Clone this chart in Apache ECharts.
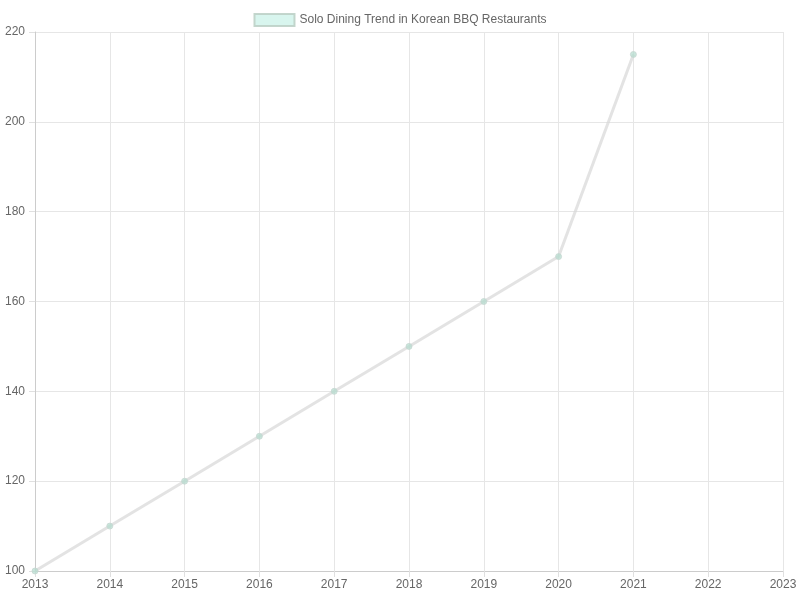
<!DOCTYPE html>
<html>
<head>
<meta charset="utf-8">
<script src="https://cdn.jsdelivr.net/npm/echarts@6/dist/echarts.min.js"></script>
<style>
  html, body { margin: 0; padding: 0; background: #fff; }
  #chart { width: 800px; height: 600px; }
</style>
</head>
<body>
<div id="chart"></div>
<script>
var years = [2013, 2014, 2015, 2016, 2017, 2018, 2019, 2020, 2021];
var values = [100, 110, 120, 130, 140, 150, 160, 170, 215];
var seriesName = "Solo Dining Trend in Korean BBQ Restaurants";

var myChart = echarts.init(document.getElementById("chart"));

var option = {
  animation: false,
  legend: {
    top: 8,
    itemWidth: 40,
    itemHeight: 12,
    itemGap: 6,
    textStyle: { color: "#666", fontSize: 12, fontFamily: "Liberation Sans, Arial" },
    data: [{
      name: seriesName,
      icon: "rect",
      itemStyle: { color: "rgba(178,235,222,0.5)", borderColor: "rgba(190,210,200,0.9)", borderWidth: 2 }
    }]
  },
  grid: { left: 35, right: 17, top: 32, bottom: 29 },
  xAxis: {
    type: "value",
    min: 2013,
    max: 2023,
    interval: 1,
    axisLine: { show: true, lineStyle: { color: "#ccc" } },
    axisTick: { show: true, length: 6, lineStyle: { color: "#e0e0e0" } },
    splitLine: { show: true, lineStyle: { color: "#e6e6e6" } },
    axisLabel: { color: "#666", fontSize: 12, formatter: function (v) { return String(v); } }
  },
  yAxis: {
    type: "value",
    min: 100,
    max: 220,
    interval: 20,
    axisLine: { show: true, lineStyle: { color: "#ccc" } },
    axisTick: { show: true, length: 6, lineStyle: { color: "#e0e0e0" } },
    splitLine: { show: true, lineStyle: { color: "#e6e6e6" } },
    axisLabel: { color: "#666", fontSize: 12, margin: 10 }
  },
  series: [{
    name: seriesName,
    type: "line",
    data: years.map(function (y, i) { return [y, values[i]]; }),
    symbol: "circle",
    symbolSize: 6,
    lineStyle: { color: "rgba(215,215,215,0.7)", width: 3 },
    itemStyle: { color: "rgba(178,220,205,0.7)", borderColor: "rgba(200,215,210,0.8)", borderWidth: 1 }
  }]
};

myChart.setOption(option);
</script>
</body>
</html>
